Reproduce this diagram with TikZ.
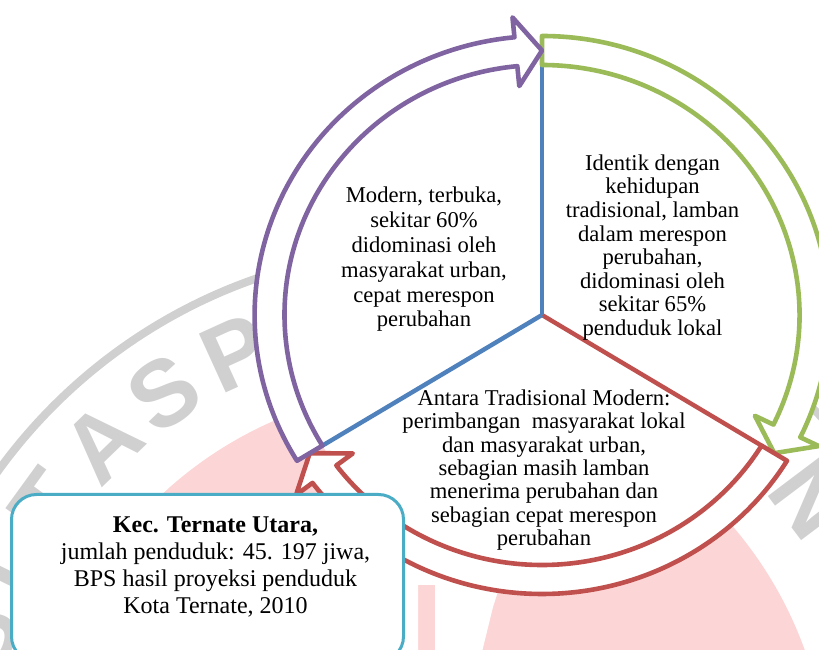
\documentclass[tikz,border=0pt]{standalone}
\usepackage{fontspec}
\setmainfont{Liberation Serif}
\newfontfamily\wmfont{Liberation Sans}
\definecolor{cpurple}{HTML}{8064A2}
\definecolor{cgreen}{HTML}{9BBB59}
\definecolor{cred}{HTML}{C0504D}
\definecolor{cblue}{HTML}{4F81BD}
\definecolor{caqua}{HTML}{4BACC6}
\definecolor{wmgray}{RGB}{208,208,208}
\definecolor{wmpink}{RGB}{252,214,214}
\tikzset{
  arrowband/.style={fill=white, line width=4.6pt, line join=round},
  spoke/.style={line width=4.4pt},
  ctext/.style={align=center, inner sep=0pt},
  wmletter/.style={font=\wmfont\bfseries\fontsize{94}{94}\selectfont, text=wmgray, inner sep=0pt},
  infobox/.style={draw=caqua, line width=3pt, rounded corners=25pt, fill=white, inner sep=0pt},
}
\def\rin{250}
\def\rout{279}
\def\rmid{264.5}
\def\wing{20}
\def\hd{5.5}
\newcommand\cyclearrow[3]{%
  \filldraw[arrowband, draw=#1]
    (#2:\rout) arc[start angle=#2, end angle={#3+\hd}, radius=\rout]
    -- ({#3+\hd}:{\rout+\wing}) -- (#3:\rmid) -- ({#3+\hd}:{\rin-\wing})
    -- ({#3+\hd}:\rin) arc[start angle={#3+\hd}, end angle=#2, radius=\rin] -- cycle;}
\begin{document}
\begin{tikzpicture}[x=1pt,y=1pt]
\path[use as bounding box, clip] (0,0) rectangle (819,650);
% watermark
\fill[wmpink] (432,-134) circle[radius=396];
\fill[white] (395,90) -- (508,90) -- (493,43) -- (480,-10) -- (435,-10) -- (435,65)
  -- (418,65) -- (418,-10) -- (395,-10) -- cycle;
\draw[wmgray, line width=8pt] ([shift={(180:535)}]432,-134) arc[start angle=180, end angle=0, radius=535];
\foreach \ch/\ang [count=\i] in {S/162, I/154, T/144, A/134, S/124.5, P/114.5, N/37}
  \node[wmletter, rotate=\ang-90] (wm\i) at ([shift={(\ang:474)}]432,-134) {\ch};
% cycle diagram
\begin{scope}[shift={(542,335)}, xscale=1.03]
  \fill[white] (0,0) circle[radius=\rin];
  \coordinate (c) at (0,0);
  \coordinate (s1) at (90:\rin);
  \coordinate (s2) at (211.5:\rin);
  \coordinate (s3) at (-31.5:\rin);
  \draw[spoke, cred] (c) -- (s3);
  \draw[spoke, cblue] (c) -- (s1);
  \draw[spoke, cblue] (c) -- (s2);
  \cyclearrow{cgreen}{90}{-31.5}
  \cyclearrow{cred}{-31.5}{-148.5}
  \cyclearrow{cpurple}{211.5}{90}
\end{scope}
\node[ctext, font=\fontsize{22.6}{24.8}\selectfont] (modern) at (424,390.5)
  {Modern, terbuka,\\sekitar 60\%\\didominasi oleh\\masyarakat urban,\\cepat merespon\\perubahan};
\node[ctext, font=\fontsize{22.6}{23.6}\selectfont] (identik) at (652.5,402.5)
  {Identik dengan\\kehidupan\\tradisional, lamban\\dalam merespon\\perubahan,\\didominasi oleh\\sekitar 65\%\\penduduk lokal};
\node[ctext, font=\fontsize{22.6}{23.4}\selectfont] (antara) at (544,180)
  {Antara Tradisional Modern:\\perimbangan~ masyarakat lokal\\dan masyarakat urban,\\sebagian masih lamban\\menerima perubahan dan\\sebagian cepat merespon\\perubahan};
\node[infobox, minimum width=392pt, minimum height=167pt, anchor=north west] (box) at (10,157) {};
\node[ctext, font=\fontsize{24}{27}\selectfont] (boxtext) at (215.5,83)
  {\textbf{Kec. Ternate Utara,}\\jumlah penduduk: 45. 197 jiwa,\\BPS hasil proyeksi penduduk\\Kota Ternate, 2010};
\end{tikzpicture}
\end{document}
